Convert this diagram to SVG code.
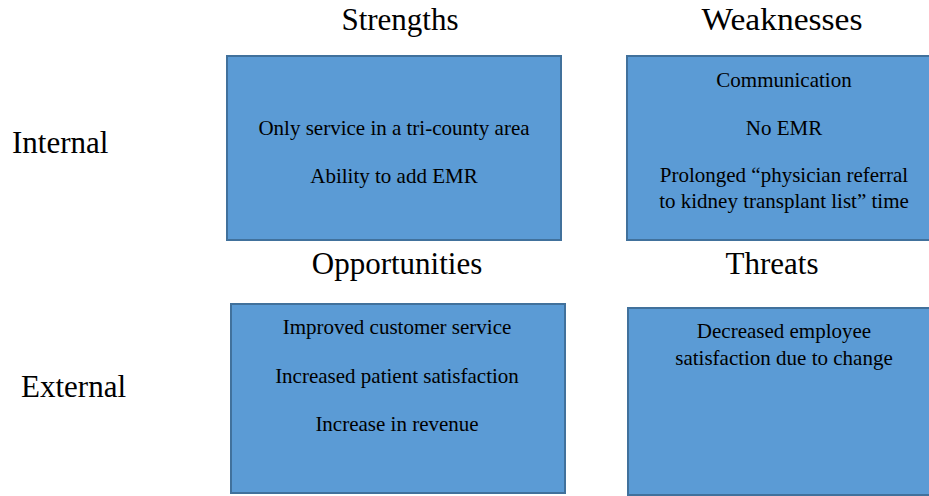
<svg xmlns="http://www.w3.org/2000/svg" width="929" height="496" viewBox="0 0 929 496">
  <style>
    .box { fill: #5B9BD5; stroke: #41719C; stroke-width: 2; }
    .head { font-family: "Liberation Serif", "Times New Roman", serif; font-size: 31px; fill: #000; text-anchor: middle; }
    .side { font-family: "Liberation Serif", "Times New Roman", serif; font-size: 31px; fill: #000; }
    .item { font-family: "Liberation Serif", "Times New Roman", serif; font-size: 21px; fill: #000; text-anchor: middle; }
  </style>
  <rect width="929" height="496" fill="#fff"/>

  <!-- row labels -->
  <text class="side" x="12" y="153">Internal</text>
  <text class="side" x="21" y="397">External</text>

  <!-- quadrant headings -->
  <text class="head" x="400" y="30">Strengths</text>
  <text class="head" x="782" y="30" textLength="161" lengthAdjust="spacingAndGlyphs">Weaknesses</text>
  <text class="head" x="397" y="274">Opportunities</text>
  <text class="head" x="772" y="274">Threats</text>

  <g id="strengths">
    <rect class="box" x="227" y="56" width="334" height="184"/>
    <text class="item" x="394" y="135">Only service in a tri-county area</text>
    <text class="item" x="394" y="183">Ability to add EMR</text>
  </g>

  <g id="weaknesses">
    <rect class="box" x="627" y="56" width="305" height="184"/>
    <text class="item" x="784" y="87">Communication</text>
    <text class="item" x="784" y="135">No EMR</text>
    <text class="item" x="784" y="182">Prolonged “physician referral</text>
    <text class="item" x="784" y="208">to kidney transplant list” time</text>
  </g>

  <g id="opportunities">
    <rect class="box" x="231" y="304" width="334" height="189"/>
    <text class="item" x="397" y="334">Improved customer service</text>
    <text class="item" x="397" y="383">Increased patient satisfaction</text>
    <text class="item" x="397" y="431">Increase in revenue</text>
  </g>

  <g id="threats">
    <rect class="box" x="628" y="308" width="305" height="187"/>
    <text class="item" x="784" y="338">Decreased employee</text>
    <text class="item" x="784" y="365">satisfaction due to change</text>
  </g>

  <g id="connectors"></g>
</svg>
